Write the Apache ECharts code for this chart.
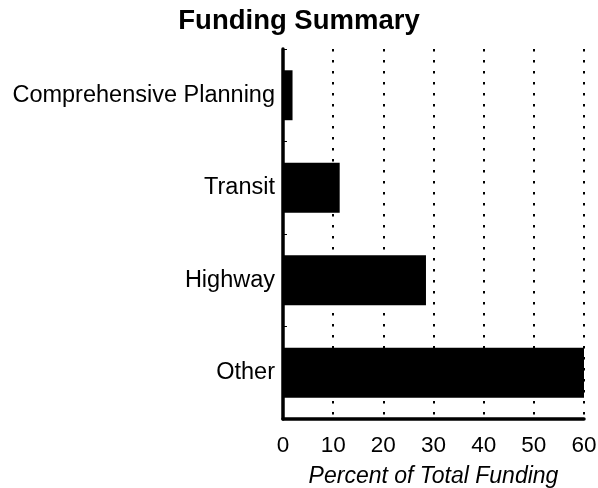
<!DOCTYPE html>
<html>
<head>
<meta charset="utf-8">
<script src="https://cdn.jsdelivr.net/npm/echarts@6/dist/echarts.min.js"></script>
<style>html,body{margin:0;padding:0;background:#fff;}#c{width:598px;height:488px;}</style>
</head>
<body>
<div id="c"></div>
<script>
var categories = ['Comprehensive Planning', 'Transit', 'Highway', 'Other'];
var values = [1.9, 11.3, 28.5, 60];
var xTicks = [0, 10, 20, 30, 40, 50, 60];

var chart = echarts.init(document.getElementById('c'));
chart.setOption({
  backgroundColor: '#ffffff',
  animation: false,
  title: {
    text: 'Funding Summary',
    left: 'center',
    top: 2,
    textStyle: { fontFamily: 'Liberation Sans', fontWeight: 'bold', fontSize: 27.5, color: '#000' }
  },
  grid: { left: 283, right: 14, top: 49, bottom: 69, containLabel: false, outerBoundsMode: 'none' },
  xAxis: {
    type: 'value',
    min: xTicks[0],
    max: xTicks[xTicks.length - 1],
    interval: 10,
    name: 'Percent of Total Funding',
    nameLocation: 'middle',
    nameGap: 46,
    nameTextStyle: { fontFamily: 'Liberation Sans', fontStyle: 'italic', fontSize: 23, color: '#000' },
    axisLine: { show: true, lineStyle: { color: '#000', width: 3.5 } },
    axisTick: { show: false },
    axisLabel: { fontFamily: 'Liberation Sans', fontSize: 22.5, color: '#000', margin: 15 },
    splitLine: { show: true, lineStyle: { color: '#000', width: 2, type: [2.5, 8.5] } }
  },
  yAxis: {
    type: 'category',
    data: categories,
    inverse: true,
    axisLine: { show: true, lineStyle: { color: '#000', width: 3.5 } },
    axisTick: { show: true, inside: true, length: 4, lineStyle: { color: '#000', width: 1 } },
    axisLabel: { fontFamily: 'Liberation Sans', fontSize: 23.5, color: '#000', margin: 8 },
    splitLine: { show: false }
  },
  series: [{
    type: 'bar',
    data: values,
    barWidth: '54%',
    itemStyle: { color: '#000' },
    z: 3
  }]
});
</script>
</body>
</html>
